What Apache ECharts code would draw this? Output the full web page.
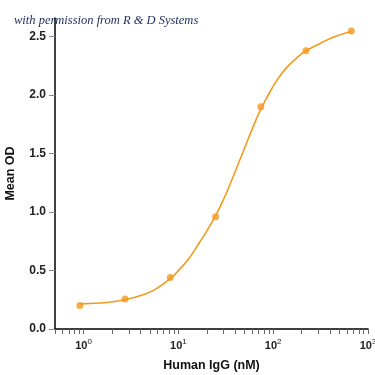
<html>
<head>
    <meta charset="utf-8">
    <title>Human IgG binding</title>
    <script src="https://cdn.jsdelivr.net/npm/echarts@6/dist/echarts.min.js"></script>
</head>
<body style="margin:0">
<div id="chartmain" style="width: 375px; height: 375px;"></div>
<script type="text/javascript">
    // measured points (3-fold dilution, nM) and mean OD
    var doses = [0.914, 2.74, 8.23, 24.7, 74.1, 222, 667];
    var meanOD = [0.20, 0.257, 0.44, 0.96, 1.90, 2.38, 2.548];

    // fitted curve
    var curveX = [0.914, 1.5, 2.74, 4.5, 6, 8.23, 10.3, 13.1, 16.7, 20, 24.7, 30, 36, 47.8, 60.8, 74, 90, 108, 140, 190, 222, 308, 444, 667];
    var curveY = [0.215, 0.222, 0.25, 0.30, 0.35, 0.43, 0.51, 0.61, 0.74, 0.84, 0.97, 1.11, 1.26, 1.51, 1.72, 1.88, 2.01, 2.12, 2.24, 2.34, 2.38, 2.44, 2.50, 2.545];

    // axis ticks
    var xTicks = [0.5, 0.6, 0.7, 0.8, 0.9, 1, 2, 3, 4, 5, 6, 7, 8, 9, 10, 20, 30, 40, 50, 60, 70, 80, 90,
                  100, 200, 300, 400, 500, 600, 700, 800, 900, 1000];
    var xLabels = [1, 10, 100, 1000];
    var yTicks = [0, 0.5, 1.0, 1.5, 2.0, 2.5];

    var orange = '#f39a1e';
    var pts = [], curve = [];
    for (var i = 0; i < doses.length; i++) pts.push([doses[i], meanOD[i]]);
    for (var j = 0; j < curveX.length; j++) curve.push([curveX[j], curveY[j]]);

    var nameFont = {fontFamily: 'Liberation Sans', fontWeight: 'bold', fontSize: 12.5, color: '#111'};

    var myChart = echarts.init(document.getElementById('chartmain'));
    myChart.setOption({
        animation: false,
        title: {
            text: 'with permission from R & D Systems',
            left: 9, top: 9,
            textStyle: {fontFamily: 'Liberation Serif', fontStyle: 'italic', fontWeight: 'normal', fontSize: 12.5, color: '#1d2b5e'}
        },
        grid: {left: 55, right: 7, top: 18, bottom: 46, outerBoundsMode: 'none'},
        xAxis: {
            type: 'log',
            logBase: 10,
            min: 0.5,
            max: 1000,
            name: 'Human IgG (nM)',
            nameLocation: 'middle',
            nameGap: 30,
            nameTextStyle: nameFont,
            axisLine: {lineStyle: {color: '#000', width: 1.5}},
            axisTick: {customValues: xTicks, length: 5, lineStyle: {color: '#666'}},
            axisLabel: {
                customValues: xLabels,
                margin: 9,
                formatter: function (v) {
                    return '{b|10}{s|' + Math.round(Math.log(v) / Math.LN10) + '}';
                },
                rich: {
                    b: {fontFamily: 'Liberation Sans', fontWeight: 'bold', fontSize: 11, color: '#222'},
                    s: {fontFamily: 'Liberation Sans', fontSize: 8, color: '#222', padding: [0, 0, 7, 0]}
                }
            },
            splitLine: {show: false}
        },
        yAxis: {
            type: 'value',
            min: 0,
            max: 2.66,
            interval: 0.5,
            name: 'Mean OD',
            nameLocation: 'middle',
            nameGap: 38,
            nameTextStyle: nameFont,
            axisLine: {show: true, lineStyle: {color: '#000', width: 1.5}},
            axisTick: {show: true, customValues: yTicks, length: 6, lineStyle: {color: '#888'}},
            axisLabel: {
                customValues: yTicks,
                margin: 9,
                fontFamily: 'Liberation Sans', fontWeight: 'bold', fontSize: 12, color: '#222',
                formatter: function (v) { return v.toFixed(1); }
            },
            splitLine: {show: false}
        },
        series: [{
            type: 'line',
            data: curve,
            smooth: 0.5,
            showSymbol: false,
            lineStyle: {color: orange, width: 1.6}
        }, {
            type: 'scatter',
            data: pts,
            symbolSize: 7,
            itemStyle: {color: orange}
        }]
    });
</script>
</body>
</html>
